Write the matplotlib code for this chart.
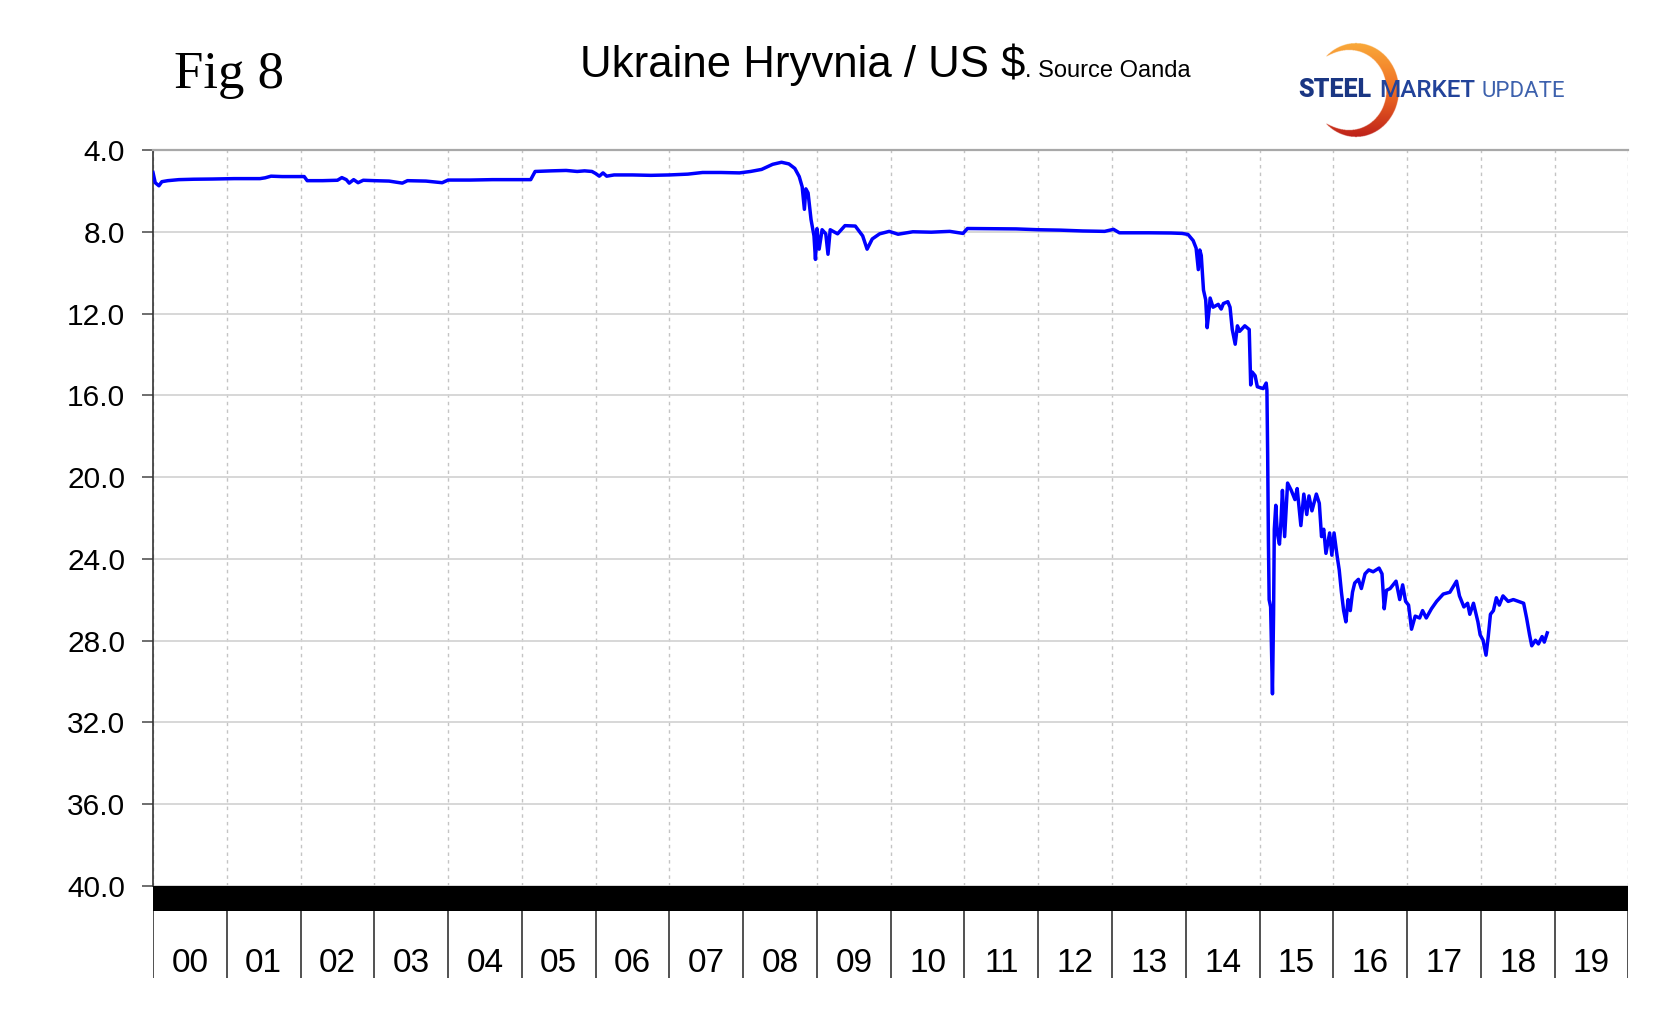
import numpy as np
import matplotlib
matplotlib.use("Agg")
import matplotlib.pyplot as plt

plt.rcParams['font.family'] = ['Liberation Sans', 'DejaVu Sans']

# ---------------- data ----------------
title = "Ukraine Hryvnia / US $"
source = ". Source Oanda"
fig_label = "Fig 8"
year_labels = ["00", "01", "02", "03", "04", "05", "06", "07", "08", "09",
               "10", "11", "12", "13", "14", "15", "16", "17", "18", "19"]
y_ticks = [4.0, 8.0, 12.0, 16.0, 20.0, 24.0, 28.0, 32.0, 36.0, 40.0]

# time in years since start of 2000
t = [0.00, 0.03, 0.08, 0.12, 0.20, 0.35, 0.55, 0.80, 1.10, 1.45, 1.52, 1.60, 1.75, 1.90,
     2.05, 2.09, 2.30, 2.50, 2.56, 2.62, 2.66, 2.72, 2.78, 2.85, 3.00, 3.20, 3.38, 3.45,
     3.70, 3.92, 4.00, 4.30, 4.60, 5.00, 5.12, 5.18, 5.40, 5.60, 5.75, 5.85, 5.95, 6.00,
     6.05, 6.10, 6.15, 6.25, 6.50, 6.75, 7.00, 7.25, 7.45, 7.70, 7.95, 8.10, 8.25, 8.40,
     8.52, 8.62, 8.70, 8.76, 8.80, 8.83, 8.85, 8.88, 8.92, 8.96, 8.98, 9.00, 9.03, 9.07,
     9.12, 9.15, 9.18, 9.28, 9.38, 9.52, 9.62, 9.68, 9.75, 9.85, 9.98, 10.10, 10.30, 10.55,
     10.80, 10.98, 11.04, 11.40, 11.70, 12.00, 12.30, 12.60, 12.90, 13.02, 13.10, 13.50,
     13.80, 13.95, 14.03, 14.10, 14.14, 14.17, 14.19, 14.21, 14.24, 14.27, 14.29, 14.32,
     14.33, 14.37, 14.44, 14.48, 14.51, 14.57, 14.60, 14.63, 14.67, 14.70, 14.73, 14.80,
     14.86, 14.88, 14.90, 14.94, 14.97, 15.05, 15.09, 15.10, 15.11, 15.12, 15.13, 15.15,
     15.175, 15.19, 15.20, 15.22, 15.24, 15.27, 15.29, 15.31, 15.34, 15.38, 15.43, 15.48,
     15.51, 15.56, 15.60, 15.64, 15.67, 15.71, 15.77, 15.81, 15.84, 15.87, 15.90, 15.95,
     15.98, 16.01, 16.05, 16.08, 16.11, 16.14, 16.17, 16.20, 16.23, 16.26, 16.29, 16.34,
     16.38, 16.43, 16.48, 16.54, 16.62, 16.66, 16.69, 16.72, 16.77, 16.85, 16.90, 16.94,
     16.98, 17.02, 17.06, 17.11, 17.17, 17.21, 17.26, 17.33, 17.40, 17.49, 17.58, 17.67,
     17.71, 17.77, 17.82, 17.85, 17.90, 17.96, 17.99, 18.03, 18.07, 18.10, 18.13, 18.17,
     18.21, 18.25, 18.30, 18.37, 18.44, 18.51, 18.58, 18.62, 18.66, 18.69, 18.74, 18.78,
     18.83, 18.86, 18.90]
uah = [5.10, 5.60, 5.75, 5.55, 5.50, 5.45, 5.43, 5.42, 5.40, 5.40, 5.36, 5.28, 5.30, 5.30,
       5.30, 5.50, 5.50, 5.48, 5.35, 5.45, 5.62, 5.45, 5.60, 5.48, 5.50, 5.52, 5.62, 5.50,
       5.52, 5.60, 5.47, 5.47, 5.45, 5.45, 5.45, 5.05, 5.02, 5.00, 5.05, 5.02, 5.05, 5.15,
       5.28, 5.12, 5.28, 5.22, 5.22, 5.24, 5.22, 5.18, 5.10, 5.10, 5.12, 5.05, 4.95, 4.70,
       4.60, 4.68, 4.90, 5.30, 5.80, 6.90, 5.90, 6.10, 7.40, 8.20, 9.35, 7.85, 8.85, 7.90,
       8.10, 9.10, 7.90, 8.10, 7.70, 7.72, 8.20, 8.85, 8.35, 8.10, 7.98, 8.12, 8.00, 8.02,
       7.98, 8.08, 7.84, 7.85, 7.86, 7.90, 7.92, 7.96, 7.98, 7.88, 8.05, 8.05,
       8.06, 8.08, 8.13, 8.43, 8.80, 9.85, 8.89, 9.16, 10.85, 11.33, 12.69, 11.69,
       11.24, 11.69, 11.55, 11.78, 11.51, 11.42, 11.69, 12.78, 13.50, 12.60, 12.87, 12.60,
       12.78, 15.49, 14.86, 15.04, 15.58, 15.67, 15.40, 15.76, 18.90, 23.10, 26.00, 26.35,
       30.60, 26.70, 22.55, 21.38, 22.73, 23.28, 22.19, 20.65, 22.91, 20.29, 20.65, 21.10,
       20.56, 22.37, 20.83, 21.83, 20.92, 21.65, 20.83, 21.28, 22.91, 22.55, 23.73, 22.73,
       23.82, 22.73, 23.82, 24.54, 25.63, 26.53, 27.08, 25.99, 26.53, 25.63, 25.18, 25.00,
       25.45, 24.73, 24.54, 24.63, 24.45, 24.73, 26.44, 25.54, 25.45, 25.09, 25.99, 25.27,
       26.08, 26.26, 27.44, 26.80, 26.89, 26.53, 26.89, 26.44, 26.08, 25.72, 25.63, 25.09,
       25.81, 26.35, 26.17, 26.71, 26.17, 27.08, 27.71, 27.98, 28.71, 27.80, 26.71, 26.53,
       25.90, 26.26, 25.81, 26.08, 25.99, 26.08, 26.17, 26.89, 27.71, 28.25, 27.98, 28.16,
       27.80, 28.07, 27.62]

# ---------------- layout helpers ----------------
W, H = 1657, 1013
fig = plt.figure(figsize=(W / 100, H / 100), dpi=100)
fig.patch.set_facecolor("white")


def fx(px):
    return px / W


def fy(py):
    return 1 - py / H


X0, X1 = 153, 1628.4
Y_TOP, Y_BOT = 150, 886
Y_CAT = 978

# ---------------- main axes ----------------
ax = fig.add_axes([fx(X0), fy(Y_BOT), (X1 - X0) / W, (Y_BOT - Y_TOP) / H])
ax.plot(t, uah, color="#0000ff", lw=2.5, solid_joinstyle="round", zorder=3)
ax.set_xlim(0, len(year_labels))
ax.set_ylim(y_ticks[-1], y_ticks[0])
ax.set_yticks(y_ticks)
ax.set_yticklabels([f"{v:.1f}" for v in y_ticks], fontsize=21.5)
ax.tick_params(axis="y", length=8, width=1.2, color="#555555", pad=12)
ax.set_xticks(range(0, len(year_labels) + 1))
ax.tick_params(axis="x", length=0, labelbottom=False)
ax.grid(axis="y", color="#d4d4d4", lw=1.3)
ax.grid(axis="x", color="#c4c4c4", lw=1.0, linestyle=(0, (2.5, 3)))
for s in ["right", "bottom"]:
    ax.spines[s].set_visible(False)
ax.spines["top"].set_color("#a8a8a8")
ax.spines["top"].set_linewidth(1.6)
ax.spines["left"].set_color("#333333")
ax.spines["left"].set_linewidth(1.2)

# ---------------- category axis with black band ----------------
axb = fig.add_axes([fx(X0), fy(Y_CAT), (X1 - X0) / W, (Y_CAT - Y_BOT) / H])
axb.set_xlim(0, len(year_labels))
axb.set_ylim(0, 1)
band = 1 - 24.7 / (Y_CAT - Y_BOT)
axb.axhspan(band, 1, color="black", lw=0)
axb.vlines(range(0, len(year_labels) + 1), 0, band, color="#333333", lw=1.2)
for i, lab in enumerate(year_labels):
    axb.text(i + 0.5, 0.16, lab, fontsize=24, ha="center", va="center")
axb.axis("off")

# ---------------- titles ----------------
fig.text(fx(174), fy(88), fig_label, fontsize=38, family=["Liberation Serif", "DejaVu Serif"],
         ha="left", va="baseline")
t1 = fig.text(fx(580), fy(77), title, fontsize=31.5, ha="left", va="baseline")
fig.canvas.draw()
r = fig.canvas.get_renderer()
bb = t1.get_window_extent(r)
fig.text(bb.x1 / W, fy(77), source, fontsize=17, ha="left", va="baseline")

# ---------------- logo ----------------
lx0, lx1, ly0, ly1 = 1300, 1410, 38, 142
axl = fig.add_axes([fx(lx0), fy(ly1), (lx1 - lx0) / W, (ly1 - ly0) / H])
res = 3
xs = np.linspace(lx0, lx1, int((lx1 - lx0) * res))
ys = np.linspace(ly0, ly1, int((ly1 - ly0) * res))
XX, YY = np.meshgrid(xs, ys)
cx, cy, rx, ry = 1356, 90, 43, 47
dx, dy = (XX - cx) / rx, (YY - cy) / ry
phi = np.arctan2(-(YY - cy), XX - cx)
rr = np.sqrt(dx ** 2 + dy ** 2)
phimax = 2.3
thick = 13 * np.clip(np.cos(phi / phimax * np.pi / 2), 0, None) ** 0.8
thick[np.abs(phi) > phimax] = 0
inner = 1 - thick / ((rx + ry) / 2)
mask = (rr <= 1) & (rr >= inner)
frac = (YY - ly0) / (ly1 - ly0)
top_c = np.array([250, 175, 60]) / 255
mid_c = np.array([240, 110, 35]) / 255
bot_c = np.array([185, 25, 25]) / 255
img = np.zeros(XX.shape + (4,))
f = frac[..., None]
col = np.where(f < 0.5, top_c + (mid_c - top_c) * (f / 0.5), mid_c + (bot_c - mid_c) * ((f - 0.5) / 0.5))
img[..., :3] = col
img[..., 3] = mask.astype(float)
axl.imshow(img, extent=(lx0, lx1, ly1, ly0), interpolation="bilinear")
axl.set_xlim(lx0, lx1)
axl.set_ylim(ly1, ly0)
axl.axis("off")

base = fy(97)
fam = ["Roboto", "Liberation Sans"]
s1 = fig.text(fx(1298), base, "STEEL", fontsize=18, fontweight="black", color="#1a3683",
              family=fam, ha="left", va="baseline", zorder=5)
fig.canvas.draw()
b1 = s1.get_window_extent(fig.canvas.get_renderer())
s2 = fig.text((b1.x1 + 8) / W, base, "MARKET", fontsize=17.5, fontweight="medium", color="#22439a",
              family=fam, ha="left", va="baseline", zorder=5)
fig.canvas.draw()
b2 = s2.get_window_extent(fig.canvas.get_renderer())
fig.text((b2.x1 + 6) / W, base, "UPDATE", fontsize=16, fontweight="normal", color="#3d61ad",
         family=fam, ha="left", va="baseline", zorder=5)

fig.savefig("out.png", dpi=100)
